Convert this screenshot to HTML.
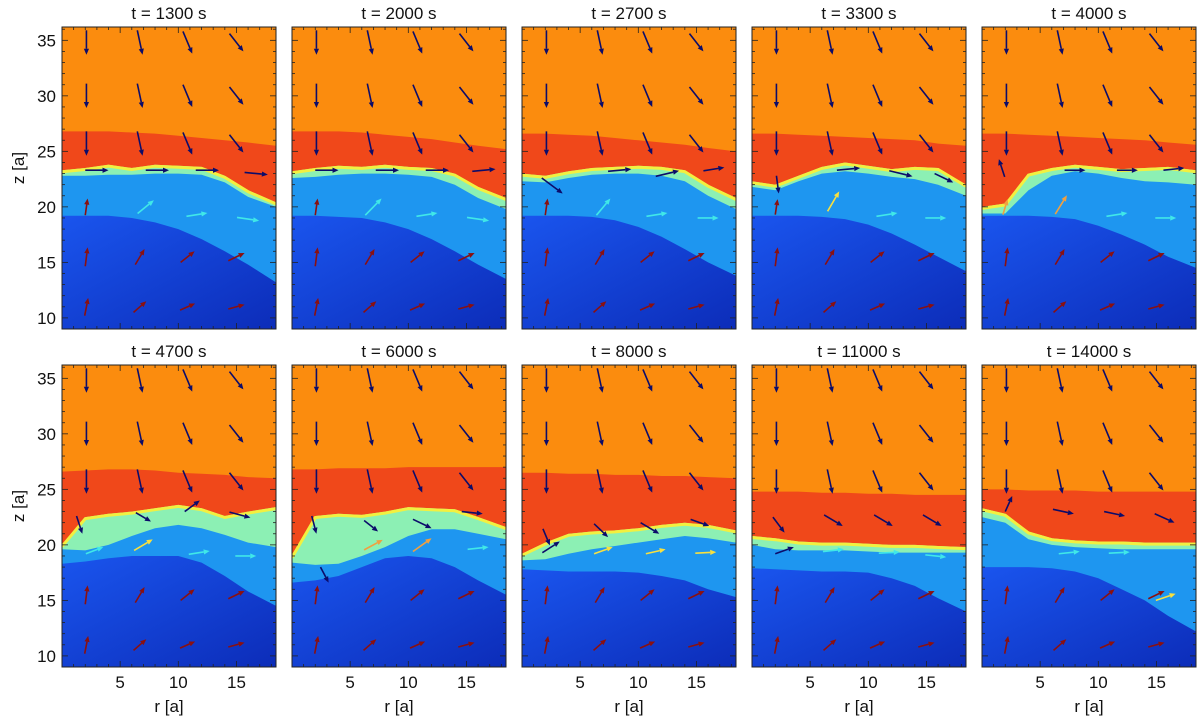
<!DOCTYPE html>
<html><head><meta charset="utf-8">
<style>
body{margin:0;background:#fff;width:1200px;height:716px;overflow:hidden;font-family:"Liberation Sans","DejaVu Sans",sans-serif}
svg{display:block}
</style></head>
<body>
<svg id="fig" width="1200" height="716" viewBox="0 0 1200 716" xmlns="http://www.w3.org/2000/svg">
<defs>
<linearGradient id="dk" x1="0" y1="0" x2="1" y2="1"><stop offset="0" stop-color="#1a55ee"/><stop offset="1" stop-color="#0c2cb8"/></linearGradient>
</defs>
</svg>
<script>
const times=["1300","2000","2700","3300","4000","4700","6000","8000","11000","14000"];
const rSamples=[0,2,4,6,8,10,12,14,16,18.4];
const redTop=[
[26.8,26.8,26.8,26.7,26.6,26.4,26.2,26,25.8,25.5],
[26.8,26.8,26.8,26.7,26.5,26.3,26.1,25.8,25.5,25.2],
[26.6,26.6,26.5,26.4,26.2,26,25.8,25.6,25.3,25],
[26.6,26.6,26.5,26.4,26.3,26.2,26.1,26,25.7,25.5],
[26.6,26.6,26.5,26.4,26.3,26.2,26.1,26,25.8,25.6],
[26.6,26.7,26.8,26.8,26.7,26.5,26.4,26.3,26.1,26],
[26.8,26.8,26.9,26.9,26.9,27,27,27,27,27],
[26.5,26.5,26.4,26.4,26.3,26.3,26.2,26.2,26.1,26],
[24.8,24.8,24.8,24.7,24.7,24.6,24.6,24.5,24.5,24.5],
[25,25,24.9,24.9,24.9,24.8,24.8,24.8,24.8,24.8]];
const greenTop=[
[23.3,23.5,23.8,23.5,23.8,23.7,23.6,22.8,21.5,20.4],
[23.2,23.5,23.7,23.6,23.8,23.6,23.5,23,21.8,20.8],
[23,22.8,23.2,23.5,23.6,23.7,23.6,23.3,22,20.8],
[22.3,22,22.8,23.6,24,23.7,23.4,23.6,23.5,22],
[20,20.3,23,23.5,23.8,23.6,23.4,23.5,23.6,23.3],
[20,22.5,22.8,23,23.3,23.6,23.3,22.6,23,23.4],
[19,22.6,22.8,22.7,23,23.4,23.3,23.2,22.5,21.6],
[19.2,20.2,21,21.2,21.3,21.5,21.8,22,21.8,21.3],
[20.8,20.6,20.3,20.2,20.2,20.1,20,20,19.9,19.8],
[23.3,22.8,21.2,20.6,20.4,20.3,20.3,20.2,20.2,20.2]];
const blueTop=[
[22.8,22.8,22.9,22.9,23,23,22.9,22.2,20.9,20],
[22.6,22.7,22.9,23,23,22.9,22.7,22,20.8,19.8],
[22.3,22.2,22.6,22.9,23,23,22.8,22.3,21,19.8],
[21.8,21.5,22.3,23,23.2,23,22.7,22.5,22,21],
[19.4,19.4,21.5,22.8,23.2,23,22.6,22.3,22.2,22],
[19.6,19.5,20,20.8,21.5,21.8,21.5,20.9,20.2,19.8],
[18.4,18.2,18.3,19,19.8,20.8,21.4,21.4,21,20.5],
[18.6,18.7,19.2,19.6,19.9,20.2,20.5,20.8,20.6,20.2],
[20,19.6,19.5,19.5,19.5,19.4,19.3,19.3,19.3,19.3],
[22.5,22,20.5,20,19.8,19.7,19.6,19.6,19.6,19.6]];
const darkTop=[
[19.2,19.2,19.2,19,18.6,18,17.1,16,14.8,13.2],
[19.2,19.2,19.1,19,18.6,18,17.1,16,14.8,13.5],
[19.2,19.2,19.2,19.1,18.8,18.2,17.3,16.2,15,13.8],
[19.2,19.2,19.2,19.1,18.9,18.4,17.6,16.6,15.5,14.2],
[19.2,19.2,19.2,19.1,18.9,18.3,17.5,16.6,15.5,14.5],
[18.3,18.5,18.8,19,19,19,18.4,17.2,15.8,14.5],
[16.6,16.8,17.2,18,18.8,19,18.8,18,16.8,15.5],
[17.8,17.7,17.6,17.6,17.6,17.5,17.2,16.8,16,15.3],
[17.9,17.8,17.7,17.6,17.6,17.5,17,16.3,15.2,14],
[18,18,18,17.9,17.6,17,16,15,13.6,12.2]];
const colR=[2.1,6.7,10.8,15.0];
const downDir=[[0,-2.2],[0.45,-2.2],[0.8,-2],[1.2,-1.6]];
const downRows=[34.8,30,25.7];
const up15=[[0.2,1.7],[0.8,1.4],[1.2,1.0],[1.4,0.7]];
const up11=[[0.3,1.6],[1.1,1.0],[1.3,0.6],[1.4,0.4]];
const upRows=[15.5,11];
const midArrows=[
[[3,23.3,2,0,'N'],[8.2,23.3,2,0,'N'],[12.5,23.3,2,0,'N'],[16.7,23,2,-0.2,'N'],[2.1,20,0.2,1.5,'R'],[7.2,20,1.4,1.2,'C'],[11.6,19.3,1.8,0.3,'C'],[16,18.9,1.9,-0.3,'C']],
[[3,23.3,2,0,'N'],[8.2,23.3,2,0,'N'],[12.5,23.3,2,0,'N'],[16.5,23.3,2,0.2,'N'],[2.1,20,0.2,1.5,'R'],[7,20,1.4,1.5,'C'],[11.6,19.3,1.8,0.3,'C'],[16,18.9,1.9,-0.3,'C']],
[[2.6,21.9,1.8,-1.4,'N'],[8.4,23.3,2,0.2,'N'],[12.5,23,2,0.5,'N'],[16.5,23.4,1.8,0.3,'N'],[2.1,20,0.2,1.5,'R'],[7,20,1.2,1.5,'C'],[11.6,19.3,1.8,0.3,'C'],[16,19,1.8,0,'C']],
[[2.2,22,0.2,-1.6,'N'],[8.3,23.4,2,0.2,'N'],[12.8,23,2,-0.5,'N'],[16.5,22.6,1.6,-0.8,'N'],[2.1,20,0.2,1.4,'R'],[7,20.5,1,1.8,'Y'],[11.6,19.3,1.8,0.3,'C'],[15.8,19,1.8,0,'C']],
[[1.7,23.5,-0.5,1.6,'N'],[8,23.3,1.8,0,'N'],[12.5,23.3,1.8,0,'N'],[16.5,23.4,1.8,0.2,'N'],[2,20,0.4,1.4,'O'],[6.8,20.2,1,1.7,'O'],[11.6,19.3,1.8,0.3,'C'],[15.8,19,1.8,0,'C']],
[[1.5,21.8,0.5,-1.6,'N'],[7,22.5,1.3,-0.8,'N'],[11.2,23.5,1.3,1,'N'],[15.3,22.7,1.8,-0.5,'N'],[2.8,19.5,1.5,0.6,'C'],[7,20,1.6,1,'Y'],[11.8,19.3,1.8,0.3,'C'],[15.8,19,1.8,0,'C']],
[[1.9,21.8,0.4,-1.6,'N'],[6.8,21.7,1.2,-1,'N'],[11.2,21.9,1.6,-0.8,'N'],[15.5,22.9,1.8,-0.2,'N'],[2.8,17.3,0.7,-1.4,'N'],[7,20,1.6,0.9,'O'],[11.2,20,1.6,1.2,'O'],[16,19.7,1.8,0.2,'C']],
[[2.1,20.7,0.6,-1.5,'N'],[6.8,21.3,1.2,-1.2,'N'],[11,21.5,1.6,-1,'N'],[15.3,22,1.6,-0.6,'N'],[2.5,19.8,1.5,1,'N'],[7,19.5,1.6,0.6,'Y'],[11.5,19.4,1.7,0.4,'Y'],[15.8,19.3,1.8,0.1,'Y']],
[[2.3,21.8,1,-1.4,'N'],[7,22.2,1.6,-1,'N'],[11.3,22.2,1.6,-1,'N'],[15.5,22.2,1.6,-1,'N'],[2.8,19.5,1.6,0.6,'N'],[7,19.5,1.8,0.2,'C'],[11.8,19.3,1.8,0.1,'C'],[15.8,19,1.8,-0.2,'C']],
[[2.3,23.7,0.6,1.4,'N'],[7,23,1.8,-0.4,'N'],[11.4,22.8,1.8,-0.4,'N'],[15.7,22.4,1.7,-0.8,'N'],[7.5,19.3,1.8,0.2,'C'],[11.8,19.3,1.8,0.1,'C'],[15.8,15.3,1.7,0.6,'Y']]];
const COL={N:'#0c0c6a',R:'#8a1010',C:'#40e8e8',Y:'#f8e040',O:'#f0a040'};

const NS='http://www.w3.org/2000/svg';
const svg=document.getElementById('fig');
const PW=214,PH=302,R0=0,R1=18.4,Z0=9.0,Z1=36.2;
const colX=[62,292,522,752,982],rowY=[27,365];
function mk(tag,attrs,parent){const e=document.createElementNS(NS,tag);for(const k in attrs)e.setAttribute(k,attrs[k]);(parent||svg).appendChild(e);return e;}

function arrow(g,X,Y,x0,z0,dr,dz,color){
  const x1=X(x0-dr/2),y1=Y(z0-dz/2),x2=X(x0+dr/2),y2=Y(z0+dz/2);
  const ang=Math.atan2(y2-y1,x2-x1),h=6,w=2.6;
  const bx=x2-h*Math.cos(ang),by=y2-h*Math.sin(ang);
  const a=mk('g',{},g);
  
  
  mk('line',{x1:x1,y1:y1,x2:bx,y2:by,stroke:color,'stroke-width':1.6},a);
  mk('polygon',{points:`${x2},${y2} ${bx-w*Math.sin(ang)},${by+w*Math.cos(ang)} ${bx+w*Math.sin(ang)},${by-w*Math.cos(ang)}`,fill:color},a);
}

for(let p=0;p<10;p++){
  const px=colX[p%5],py=rowY[Math.floor(p/5)];
  const X=r=>px+(r-R0)/(R1-R0)*PW;
  const Y=z=>py+(Z1-z)/(Z1-Z0)*PH;
  const g=mk('g',{});
  
  
  const cp=mk('clipPath',{id:'cp'+p},g);
  mk('rect',{x:px,y:py,width:PW,height:PH},cp);
  const body=mk('g',{'clip-path':`url(#cp${p})`},g);
  const bg=mk('rect',{x:px,y:py,width:PW,height:PH,fill:'#fb8c0e'},body);
  
  
  const layers=[[redTop[p],'#f0481a','red-band'],[greenTop[p],'#8cf0b4','transition-layer'],[blueTop[p],'#1e96f0','light-blue-region'],[darkTop[p],'url(#dk)','dark-blue-region']];
  layers.forEach(([arr,fill,name],li)=>{
    let pts=rSamples.map((r,i)=>`${X(r).toFixed(1)},${Y(arr[i]).toFixed(1)}`);
    if(li===2){
      const gl=mk('polyline',{points:greenTop[p].map((z,i)=>`${X(rSamples[i]).toFixed(1)},${(Y(z)+1.5).toFixed(1)}`).join(' '),fill:'none',stroke:'#f2f040','stroke-width':3},body);
      
      
    }
    pts.push(`${X(R1)+2},${py+PH+2}`,`${px-2},${py+PH+2}`);
    const poly=mk('polygon',{points:pts.join(' '),fill:fill},body);
    
    
  });
  downRows.forEach(z=>colR.forEach((r,i)=>arrow(body,X,Y,r,z,downDir[i][0],downDir[i][1],COL.N)));
  colR.forEach((r,i)=>arrow(body,X,Y,r,upRows[0],up15[i][0],up15[i][1],COL.R));
  colR.forEach((r,i)=>arrow(body,X,Y,r,upRows[1],up11[i][0],up11[i][1],COL.R));
  midArrows[p].forEach(a=>arrow(body,X,Y,a[0],a[1],a[2],a[3],COL[a[4]]));
  const fr=mk('rect',{x:px,y:py,width:PW,height:PH,fill:'none',stroke:'#222','stroke-width':1},g);
  
  
  for(let r=1;r<=18;r++){const L=(r%5===0)?6:3;
    mk('line',{x1:X(r),y1:py+PH,x2:X(r),y2:py+PH-L,stroke:'#222','stroke-width':0.8},g);
    mk('line',{x1:X(r),y1:py,x2:X(r),y2:py+L,stroke:'#222','stroke-width':0.8},g);}
  for(let z=10;z<=36;z++){const L=(z%5===0)?6:3;
    mk('line',{x1:px,y1:Y(z),x2:px+L,y2:Y(z),stroke:'#222','stroke-width':0.8},g);
    mk('line',{x1:px+PW,y1:Y(z),x2:px+PW-L,y2:Y(z),stroke:'#222','stroke-width':0.8},g);}
  const t=mk('text',{x:px+PW/2,y:py-8,'text-anchor':'middle','font-size':17,fill:'#111'},g);
  t.textContent='t = '+times[p]+' s';
  
  
  if(p%5===0){
    [10,15,20,25,30,35].forEach(z=>{const l=mk('text',{x:px-6,y:Y(z)+6,'text-anchor':'end','font-size':17,fill:'#111'},g);l.textContent=z;
      
      });
    const yt=mk('text',{x:0,y:0,transform:`translate(24,${py+PH/2-10}) rotate(-90)`,'text-anchor':'middle','font-size':17,fill:'#111'},g);
    yt.textContent='z [a]';
    
    
  }
  if(p>=5){
    [5,10,15].forEach(r=>{const l=mk('text',{x:X(r),y:py+PH+21,'text-anchor':'middle','font-size':17,fill:'#111'},g);l.textContent=r;
      
      });
    const xt=mk('text',{x:px+PW/2,y:py+PH+45,'text-anchor':'middle','font-size':17,fill:'#111'},g);
    xt.textContent='r [a]';
    
    
  }
}
</script>
</body></html>
